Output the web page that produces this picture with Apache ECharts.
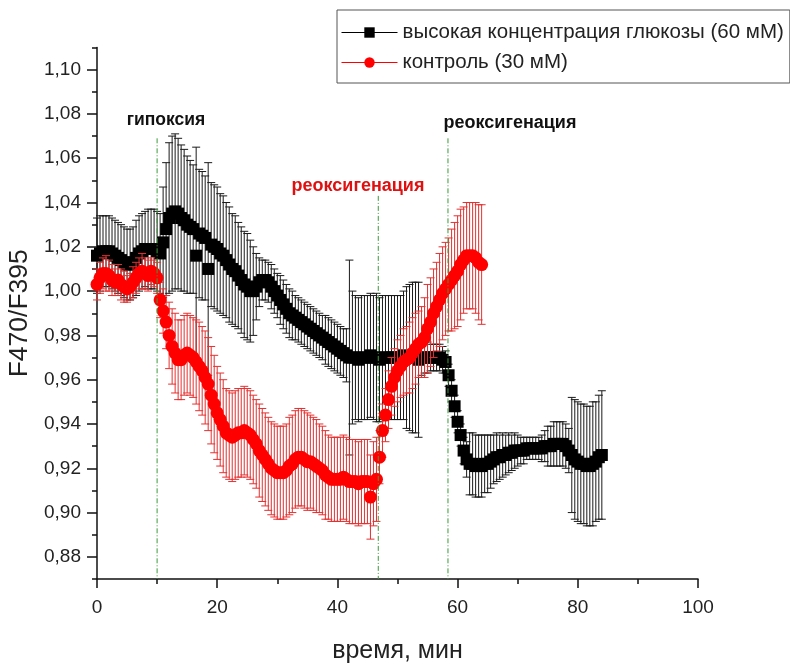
<!DOCTYPE html>
<html>
<head>
<meta charset="utf-8">
<script src="https://cdn.jsdelivr.net/npm/echarts@6/dist/echarts.min.js"></script>
<style>
  html, body { margin: 0; padding: 0; background: #fff; }
  #chart { width: 790px; height: 664px; }
</style>
</head>
<body>
<div id="chart"></div>
<script>
// Sampling times, minutes (one reading every 30 s)
const time = [
  0, 0.5, 1, 1.5, 2, 2.5, 3, 3.5, 4, 4.5, 5, 5.5, 6, 6.5, 7, 7.5, 8, 8.5, 9, 9.5,
  10, 10.5, 11, 11.5, 12, 12.5, 13, 13.5, 14, 14.5, 15, 15.5, 16, 16.5, 17, 17.5, 18, 18.5, 19, 19.5,
  20, 20.5, 21, 21.5, 22, 22.5, 23, 23.5, 24, 24.5, 25, 25.5, 26, 26.5, 27, 27.5, 28, 28.5, 29, 29.5,
  30, 30.5, 31, 31.5, 32, 32.5, 33, 33.5, 34, 34.5, 35, 35.5, 36, 36.5, 37, 37.5, 38, 38.5, 39, 39.5,
  40, 40.5, 41, 41.5, 42, 42.5, 43, 43.5, 44, 44.5, 45, 45.5, 46, 46.5, 47, 47.5, 48, 48.5, 49, 49.5,
  50, 50.5, 51, 51.5, 52, 52.5, 53, 53.5, 54, 54.5, 55, 55.5, 56, 56.5, 57, 57.5, 58, 58.5, 59, 59.5,
  60, 60.5, 61, 61.5, 62, 62.5, 63, 63.5, 64, 64.5, 65, 65.5, 66, 66.5, 67, 67.5, 68, 68.5, 69, 69.5,
  70, 70.5, 71, 71.5, 72, 72.5, 73, 73.5, 74, 74.5, 75, 75.5, 76, 76.5, 77, 77.5, 78, 78.5, 79, 79.5,
  80, 80.5, 81, 81.5, 82, 82.5, 83, 83.5, 84
];

// High glucose (60 mM): mean F470/F395 and its error
const glucoseMean = [
  1.016, 1.017, 1.018, 1.018, 1.018, 1.017, 1.016, 1.015, 1.014, 1.013, 1.012, 1.012, 1.013, 1.015, 1.017, 1.018, 1.019, 1.019, 1.019, 1.019,
  1.018, 1.017, 1.022, 1.028, 1.033, 1.035, 1.036, 1.035, 1.033, 1.032, 1.030, 1.029, 1.028, 1.016, 1.026, 1.025, 1.024, 1.010, 1.021, 1.020,
  1.019, 1.017, 1.016, 1.014, 1.012, 1.010, 1.009, 1.007, 1.005, 1.003, 1.002, 1.000, 1.000, 1.002, 1.004, 1.005, 1.005, 1.004, 1.002, 1.000,
  0.998, 0.996, 0.994, 0.992, 0.990, 0.989, 0.988, 0.987, 0.986, 0.985, 0.984, 0.983, 0.982, 0.981, 0.980, 0.979, 0.978, 0.977, 0.976, 0.975,
  0.974, 0.973, 0.972, 0.971, 0.970, 0.970, 0.970, 0.969, 0.970, 0.970, 0.970, 0.971, 0.970, 0.970, 0.969, 0.970, 0.970, 0.970, 0.970, 0.970,
  0.970, 0.970, 0.971, 0.970, 0.970, 0.970, 0.970, 0.969, 0.970, 0.970, 0.970, 0.970, 0.970, 0.970, 0.970, 0.969, 0.968, 0.962, 0.955, 0.948,
  0.941, 0.935, 0.928, 0.924, 0.922, 0.922, 0.921, 0.921, 0.921, 0.922, 0.922, 0.923, 0.924, 0.925, 0.925, 0.926, 0.926, 0.927, 0.927, 0.928,
  0.928, 0.928, 0.928, 0.929, 0.929, 0.929, 0.929, 0.929, 0.929, 0.930, 0.930, 0.930, 0.931, 0.931, 0.931, 0.931, 0.930, 0.928, 0.926, 0.924,
  0.923, 0.922, 0.922, 0.921, 0.921, 0.922, 0.923, 0.925, 0.926
];
const glucoseErr = [
  0.017, 0.017, 0.016, 0.016, 0.016, 0.016, 0.016, 0.016, 0.016, 0.016, 0.016, 0.016, 0.016, 0.017, 0.017, 0.017, 0.017, 0.018, 0.018, 0.018,
  0.018, 0.018, 0.025, 0.030, 0.034, 0.035, 0.035, 0.034, 0.033, 0.032, 0.031, 0.030, 0.029, 0.049, 0.029, 0.029, 0.028, 0.048, 0.028, 0.028,
  0.028, 0.027, 0.027, 0.026, 0.026, 0.025, 0.025, 0.024, 0.024, 0.024, 0.024, 0.023, 0.020, 0.015, 0.011, 0.009, 0.009, 0.009, 0.010, 0.010,
  0.010, 0.011, 0.011, 0.011, 0.011, 0.011, 0.010, 0.010, 0.010, 0.010, 0.010, 0.010, 0.010, 0.010, 0.010, 0.010, 0.011, 0.011, 0.011, 0.011,
  0.011, 0.011, 0.011, 0.012, 0.044, 0.030, 0.028, 0.028, 0.028, 0.028, 0.028, 0.028, 0.028, 0.029, 0.028, 0.028, 0.028, 0.028, 0.028, 0.028,
  0.028, 0.028, 0.029, 0.032, 0.033, 0.034, 0.034, 0.035, 0.008, 0.007, 0.007, 0.006, 0.006, 0.006, 0.006, 0.006, 0.005, 0.005, 0.005, 0.005,
  0.005, 0.005, 0.006, 0.008, 0.014, 0.014, 0.014, 0.014, 0.014, 0.013, 0.013, 0.012, 0.011, 0.011, 0.010, 0.010, 0.009, 0.009, 0.008, 0.008,
  0.007, 0.006, 0.006, 0.005, 0.005, 0.005, 0.005, 0.005, 0.006, 0.007, 0.009, 0.009, 0.010, 0.010, 0.010, 0.010, 0.010, 0.010, 0.026, 0.027,
  0.027, 0.027, 0.027, 0.027, 0.027, 0.028, 0.027, 0.028, 0.029
];

// Control (30 mM): mean F470/F395 and its error
const controlMean = [
  1.003, 1.006, 1.008, 1.008, 1.007, 1.005, 1.004, 1.005, 1.003, 1.002, 1.001, 1.002, 1.004, 1.006, 1.008, 1.009, 1.008, 1.007, 1.009, 1.008,
  1.006, 0.996, 0.991, 0.986, 0.980, 0.975, 0.972, 0.969, 0.969, 0.971, 0.972, 0.971, 0.970, 0.968, 0.966, 0.964, 0.961, 0.958, 0.953, 0.949,
  0.945, 0.942, 0.939, 0.936, 0.935, 0.934, 0.935, 0.936, 0.936, 0.937, 0.936, 0.935, 0.933, 0.931, 0.928, 0.926, 0.924, 0.922, 0.920, 0.919,
  0.918, 0.918, 0.918, 0.919, 0.921, 0.922, 0.924, 0.925, 0.925, 0.924, 0.923, 0.923, 0.922, 0.921, 0.920, 0.919, 0.917, 0.916, 0.915, 0.915,
  0.915, 0.915, 0.916, 0.915, 0.914, 0.914, 0.914, 0.913, 0.914, 0.914, 0.914, 0.907, 0.913, 0.915, 0.925, 0.937, 0.944, 0.951, 0.957, 0.961,
  0.964, 0.966, 0.968, 0.969, 0.970, 0.972, 0.974, 0.976, 0.977, 0.979, 0.983, 0.986, 0.990, 0.993, 0.996, 0.999, 1.001, 1.003, 1.005, 1.007,
  1.009, 1.012, 1.014, 1.016, 1.016, 1.016, 1.015, 1.013, 1.012
];
const controlErr = [
  0.007, 0.007, 0.007, 0.008, 0.007, 0.007, 0.006, 0.007, 0.007, 0.007, 0.006, 0.006, 0.007, 0.007, 0.007, 0.008, 0.007, 0.007, 0.006, 0.006,
  0.007, 0.008, 0.010, 0.012, 0.015, 0.017, 0.018, 0.018, 0.018, 0.018, 0.018, 0.018, 0.018, 0.019, 0.020, 0.020, 0.021, 0.021, 0.022, 0.022,
  0.021, 0.021, 0.021, 0.020, 0.020, 0.020, 0.020, 0.020, 0.020, 0.020, 0.020, 0.020, 0.020, 0.020, 0.021, 0.021, 0.021, 0.021, 0.021, 0.021,
  0.021, 0.021, 0.021, 0.021, 0.022, 0.022, 0.022, 0.022, 0.022, 0.022, 0.022, 0.021, 0.021, 0.021, 0.020, 0.020, 0.020, 0.019, 0.019, 0.019,
  0.019, 0.019, 0.019, 0.019, 0.019, 0.019, 0.019, 0.019, 0.019, 0.019, 0.019, 0.019, 0.019, 0.019, 0.012, 0.012, 0.012, 0.013, 0.013, 0.013,
  0.014, 0.014, 0.015, 0.015, 0.016, 0.016, 0.016, 0.015, 0.016, 0.018, 0.020, 0.020, 0.020, 0.020, 0.021, 0.021, 0.021, 0.021, 0.023, 0.024,
  0.025, 0.025, 0.024, 0.024, 0.024, 0.024, 0.025, 0.026, 0.027
];

// Protocol events: time of switch (min) and top of the marker line
const eventTimes = [10, 46.8, 58.4];
const eventTops = [1.069, 1.043, 1.069];

// Axis ticks
const yMajorTicks = [0.88, 0.90, 0.92, 0.94, 0.96, 0.98, 1.00, 1.02, 1.04, 1.06, 1.08, 1.10];
const yMinorTicks = [0.87, 0.89, 0.91, 0.93, 0.95, 0.97, 0.99, 1.01, 1.03, 1.05, 1.07, 1.09, 1.11];
const Y_MIN = 0.87, Y_MAX = 1.11;

const seriesNames = ['высокая концентрация глюкозы (60 мМ)', 'контроль (30 мМ)'];

const FONT = '"Liberation Sans", Arial, sans-serif';

function pairs(t, v) { return v.map((y, i) => [t[i], y]); }

function errorBars(t, mean, err, color, z) {
  return {
    type: 'custom',
    silent: true,
    z: z,
    encode: { x: 0, y: [1, 2] },
    data: mean.map((m, i) => [t[i], m - err[i], m + err[i]]),
    renderItem: function (params, api) {
      const lo = api.coord([api.value(0), api.value(1)]);
      const hi = api.coord([api.value(0), api.value(2)]);
      const hw = 4;
      const st = { stroke: color, lineWidth: 1 };
      return {
        type: 'group',
        children: [
          { type: 'line', shape: { x1: lo[0], y1: lo[1], x2: hi[0], y2: hi[1] }, style: st },
          { type: 'line', shape: { x1: lo[0] - hw, y1: lo[1], x2: lo[0] + hw, y2: lo[1] }, style: st },
          { type: 'line', shape: { x1: hi[0] - hw, y1: hi[1], x2: hi[0] + hw, y2: hi[1] }, style: st }
        ]
      };
    }
  };
}

// Vertical dash-dot markers for the protocol switches
const eventLines = {
  type: 'custom',
  silent: true,
  z: 8,
  encode: { x: 0, y: 1 },
  data: eventTimes.map((t, i) => [t, eventTops[i]]),
  renderItem: function (params, api) {
    const top = api.coord([api.value(0), api.value(1)]);
    const bottom = api.coord([api.value(0), Y_MIN]);
    return {
      type: 'line',
      shape: { x1: top[0], y1: top[1], x2: bottom[0], y2: bottom[1] },
      style: { stroke: '#3c9a3c', lineWidth: 1, lineDash: [5, 2, 1, 2] }
    };
  }
};

const fmt = v => v.toFixed(2).replace('.', ',');

const chart = echarts.init(document.getElementById('chart'), null, { renderer: 'canvas' });

const option = {
  animation: false,
  backgroundColor: '#fff',
  textStyle: { fontFamily: FONT },
  grid: { left: 97, right: 92, top: 47.5, bottom: 85, containLabel: false, outerBoundsMode: 'none' },
  legend: {
    data: seriesNames,
    orient: 'vertical',
    left: 337,
    top: 10,
    padding: [12, 6, 10, 4],
    itemGap: 9,
    itemWidth: 56,
    itemHeight: 13,
    borderColor: '#555',
    borderWidth: 1,
    backgroundColor: '#fff',
    lineStyle: { width: 1, opacity: 1 },
    textStyle: { fontSize: 20.5, color: '#222', fontFamily: FONT }
  },
  xAxis: {
    type: 'value',
    min: 0, max: 100, interval: 20,
    name: 'время, мин',
    nameLocation: 'middle',
    nameGap: 60,
    nameTextStyle: { fontSize: 25, color: '#222', fontFamily: FONT },
    axisLine: { lineStyle: { color: '#111', width: 1.5 } },
    axisTick: { length: 9, lineStyle: { color: '#111', width: 1.5 } },
    minorTick: { show: true, splitNumber: 2, length: 5, lineStyle: { color: '#111', width: 1.5 } },
    axisLabel: { fontSize: 19, color: '#222', margin: 19, fontFamily: FONT },
    splitLine: { show: false }
  },
  yAxis: [
    {
      type: 'value',
      min: Y_MIN, max: Y_MAX,
      name: 'F470/F395',
      nameLocation: 'middle',
      nameGap: 59,
      nameTextStyle: { fontSize: 26.5, color: '#222', fontFamily: FONT },
      axisLine: { show: true, lineStyle: { color: '#111', width: 1.5 } },
      axisTick: { show: true, length: 10, customValues: yMajorTicks, lineStyle: { color: '#111', width: 1.5 } },
      axisLabel: { customValues: yMajorTicks, formatter: fmt, fontSize: 19, color: '#222', margin: 16, fontFamily: FONT },
      splitLine: { show: false }
    },
    {
      type: 'value',
      min: Y_MIN, max: Y_MAX,
      position: 'left',
      axisLine: { show: false },
      axisTick: { show: true, length: 5, customValues: yMinorTicks, lineStyle: { color: '#111', width: 1.5 } },
      axisLabel: { show: false, customValues: yMinorTicks },
      splitLine: { show: false }
    }
  ],
  graphic: [
    { type: 'text', x: 166, y: 120, z: 50,
      style: { text: 'гипоксия', font: 'bold 17.5px ' + FONT, fill: '#111', textAlign: 'center', textVerticalAlign: 'middle' } },
    { type: 'text', x: 358, y: 186, z: 50,
      style: { text: 'реоксигенация', font: 'bold 18px ' + FONT, fill: '#e01010', textAlign: 'center', textVerticalAlign: 'middle' } },
    { type: 'text', x: 510, y: 123, z: 50,
      style: { text: 'реоксигенация', font: 'bold 18px ' + FONT, fill: '#111', textAlign: 'center', textVerticalAlign: 'middle' } }
  ],
  series: [
    errorBars(time, glucoseMean, glucoseErr, '#1a1a1a', 2),
    {
      name: seriesNames[0],
      type: 'line',
      z: 3,
      data: pairs(time, glucoseMean),
      symbol: 'rect',
      symbolSize: 12,
      showAllSymbol: true,
      itemStyle: { color: '#000' },
      lineStyle: { color: '#000', width: 0 }
    },
    errorBars(time, controlMean, controlErr, '#e53030', 4),
    {
      name: seriesNames[1],
      type: 'line',
      z: 5,
      data: pairs(time, controlMean),
      symbol: 'circle',
      symbolSize: 13,
      showAllSymbol: true,
      itemStyle: { color: '#ff0000' },
      lineStyle: { color: '#ff0000', width: 0 }
    },
    eventLines
  ]
};

chart.setOption(option);
</script>
</body>
</html>
